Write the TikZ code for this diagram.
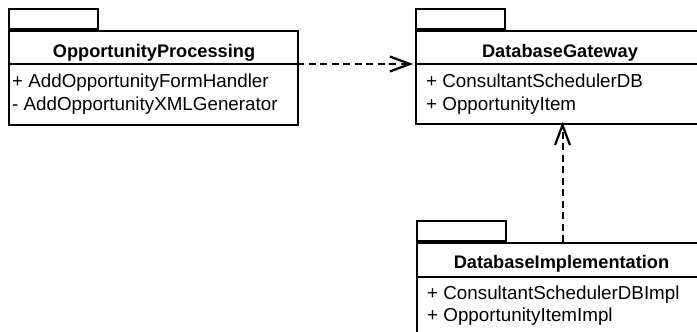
\documentclass[tikz,border=0pt]{standalone}
\usepackage{fontspec}
\setmainfont{Liberation Sans}
\usetikzlibrary{arrows.meta}
\tikzset{
  pkgbody/.style={draw, line width=2pt, inner sep=0pt, anchor=north west},
  pkgtab/.style={draw, line width=2pt, inner sep=0pt, anchor=south west, minimum width=89pt, minimum height=20pt},
  sepline/.style={line width=1.1pt},
  pkgtitle/.style={font=\fontsize{18.2}{21}\selectfont\bfseries, anchor=base, inner sep=0pt},
  member/.style={font=\fontsize{18.8}{22}\selectfont, anchor=base west, inner sep=0pt},
  dep/.style={line width=2pt, dash pattern=on 7pt off 4.5pt, -{Straight Barb[length=20pt, width=15pt, line width=2.2pt]}},
}
\begin{document}
\begin{tikzpicture}[x=1pt, y=-1pt]
\clip (0,0) rectangle (697,332);
% OpportunityProcessing
\node[pkgbody, minimum width=289pt, minimum height=94pt] (op) at (8,30) {};
\node[pkgtab] (optab) at (op.north west) {};
\coordinate (opSW) at (8,64);
\coordinate (opSE) at (297,64);
\draw[sepline] (opSW) -- (opSE);
\node[pkgtitle] (opt) at (154,57) {OpportunityProcessing};
\node[member] (op1) at (12,87) {+ AddOpportunityFormHandler};
\node[member] (op2) at (12,110) {- AddOpportunityXMLGenerator};
% DatabaseGateway
\node[pkgbody, minimum width=290pt, minimum height=93pt] (gw) at (415,30) {};
\node[pkgtab] (gwtab) at (gw.north west) {};
\coordinate (gwSW) at (415,64);
\coordinate (gwSE) at (705,64);
\draw[sepline] (gwSW) -- (gwSE);
\node[pkgtitle] (gwt) at (560,57) {DatabaseGateway};
\node[member] (gw1) at (426,87) {+ ConsultantSchedulerDB};
\node[member] (gw2) at (426,110) {+ OpportunityItem};
% DatabaseImplementation
\node[pkgbody, minimum width=291pt, minimum height=110pt] (im) at (416,242) {};
\node[pkgtab] (imtab) at (im.north west) {};
\coordinate (imSW) at (416,277);
\coordinate (imSE) at (707,277);
\draw[sepline] (imSW) -- (imSE);
\node[pkgtitle] (imt) at (561.5,268) {DatabaseImplementation};
\node[member] (im1) at (427,299) {+ ConsultantSchedulerDBImpl};
\node[member] (im2) at (427,321) {+ OpportunityItemImpl};
% dependencies
\draw[dep] (opSE) -- ([xshift=-2pt]gwSW);
\draw[dep] (im.north) -- ([yshift=3pt]im.north |- gw.south);
\end{tikzpicture}
\end{document}
